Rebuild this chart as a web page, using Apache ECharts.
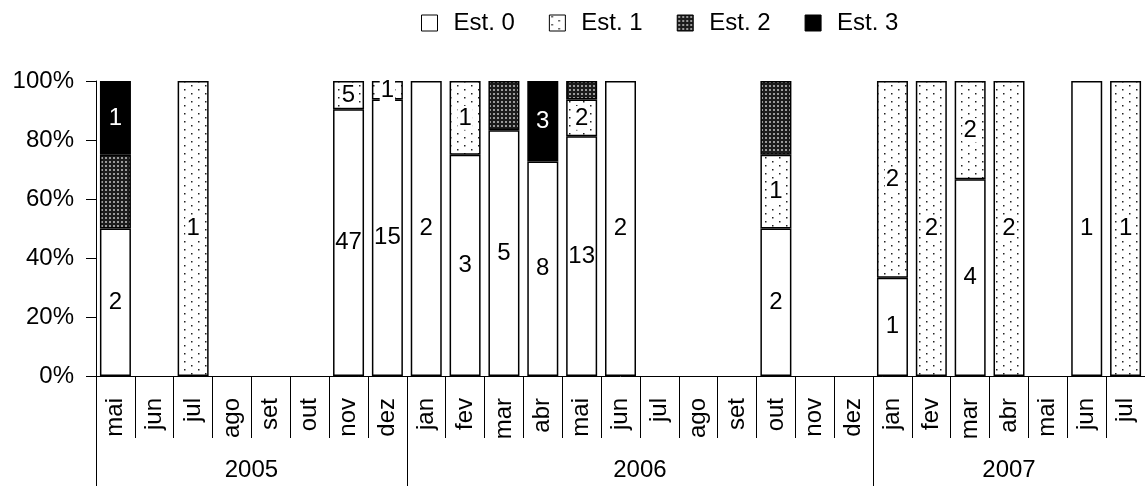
<!DOCTYPE html>
<html>
<head>
<meta charset="utf-8">
<script src="https://cdn.jsdelivr.net/npm/echarts@6/dist/echarts.min.js"></script>
<style>
  html, body { margin: 0; padding: 0; background: #fff; }
  #chart { width: 1145px; height: 486px; }
</style>
</head>
<body>
<div id="chart"></div>
<script>
// Monthly categories (May 2005 – Jul 2007)
const months = ['mai','jun','jul','ago','set','out','nov','dez',
                'jan','fev','mar','abr','mai','jun','jul','ago','set','out','nov','dez',
                'jan','fev','mar','abr','mai','jun','jul'];
const years = ['2005', '2006', '2007'];
const monthsPerYear = [8, 12, 7];
const seriesNames = ['Est. 0', 'Est. 1', 'Est. 2', 'Est. 3'];

// Counts per month for each stage
const est0 = [2,0,0,0,0,0,47,15, 2,3,5,8,13,2,0,0,0,2,0,0, 1,0,4,0,0,1,0];
const est1 = [0,0,1,0,0,0,5,1,   0,1,0,0,2,0,0,0,0,1,0,0,  2,2,2,2,0,0,1];
const est2 = [1,0,0,0,0,0,0,0,   0,0,1,0,1,0,0,0,0,1,0,0,  0,0,0,0,0,0,0];
const est3 = [1,0,0,0,0,0,0,0,   0,0,0,3,0,0,0,0,0,0,0,0,  0,0,0,0,0,0,0];
const counts = [est0, est1, est2, est3];

const FONT = "'Liberation Sans', Arial, sans-serif";
const FS = 24;

// Fill patterns
function makePattern(w, h, bg, draw) {
  const c = document.createElement('canvas');
  c.width = w; c.height = h;
  const ctx = c.getContext('2d');
  ctx.fillStyle = bg;
  ctx.fillRect(0, 0, w, h);
  draw(ctx);
  return { image: c, repeat: 'repeat' };
}
const sparseDots = makePattern(14, 8, '#ffffff', ctx => {
  ctx.fillStyle = '#222';
  ctx.fillRect(2, 1, 1.5, 1.5);
  ctx.fillRect(9, 5, 1.5, 1.5);
});
const denseDots = makePattern(4, 4, '#1c1c1c', ctx => {
  ctx.fillStyle = '#9a9a9a';
  ctx.fillRect(1, 1, 2, 2);
});
const fills = ['#ffffff', sparseDots, denseDots, '#000000'];

// Totals per month, percentage share per stage
const totals = months.map((_, i) => counts.reduce((s, arr) => s + arr[i], 0));
function shares(arr) {
  return arr.map((v, i) => (v > 0 ? v / totals[i] * 100 : '-'));
}

// Year group boundaries and label positions on a 0..N month scale
const bounds = [0];
monthsPerYear.forEach(n => bounds.push(bounds[bounds.length - 1] + n));
const mids = monthsPerYear.map((n, i) => bounds[i] + n / 2);

const labelCfg = [
  { show: true, color: '#000' },
  { show: true, color: '#000', backgroundColor: '#fff', padding: [0, 1] },
  { show: false },
  { show: true, color: '#fff' }
];

const series = seriesNames.map((name, s) => ({
  name: name,
  type: 'bar',
  stack: 'total',
  xAxisIndex: 0,
  barWidth: 31,
  data: shares(counts[s]),
  itemStyle: { color: fills[s], borderColor: '#000', borderWidth: 1.5 },
  label: Object.assign({
    position: 'inside',
    fontFamily: FONT,
    fontSize: FS,
    formatter: p => String(counts[s][p.dataIndex])
  }, labelCfg[s])
}));

const chart = echarts.init(document.getElementById('chart'), null, { renderer: 'canvas' });
chart.setOption({
  animation: false,
  backgroundColor: '#fff',
  textStyle: { fontFamily: FONT },
  legend: {
    left: 416,
    top: 6,
    itemWidth: 16,
    itemHeight: 16,
    itemGap: 34,
    icon: 'rect',
    itemStyle: { borderColor: '#000', borderWidth: 1 },
    textStyle: { fontFamily: FONT, fontSize: FS, color: '#000', padding: [0, 0, 0, 11] },
    data: seriesNames
  },
  grid: { left: 96, right: 0, top: 81, bottom: 110, containLabel: false },
  xAxis: [
    {
      type: 'category',
      data: months,
      position: 'bottom',
      axisLine: { show: true, lineStyle: { color: '#000', width: 1 } },
      axisTick: { show: true, interval: 0, length: 62, lineStyle: { color: '#000', width: 1 } },
      axisLabel: {
        interval: 0, rotate: 90, margin: 22,
        fontFamily: FONT, fontSize: FS, color: '#000'
      },
      splitLine: { show: false }
    },
    {
      type: 'value',
      min: 0,
      max: bounds[bounds.length - 1],
      position: 'bottom',
      axisLine: { show: false },
      axisTick: { show: true, customValues: bounds, length: 110, lineStyle: { color: '#000', width: 1 } },
      axisLabel: {
        customValues: mids,
        margin: 82,
        fontFamily: FONT, fontSize: FS, color: '#000',
        formatter: v => years[mids.indexOf(v)]
      },
      splitLine: { show: false }
    }
  ],
  yAxis: {
    type: 'value',
    min: 0,
    max: 100,
    interval: 20,
    axisLine: { show: true, lineStyle: { color: '#000', width: 1 } },
    axisTick: { show: true, length: 10, lineStyle: { color: '#000', width: 1 } },
    axisLabel: { formatter: '{value}%', margin: 22, fontFamily: FONT, fontSize: FS, color: '#000' },
    splitLine: { show: false }
  },
  series: series
});
</script>
</body>
</html>
